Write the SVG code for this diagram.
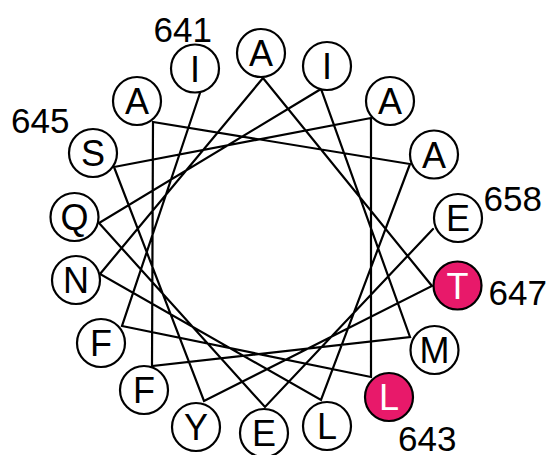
<svg xmlns="http://www.w3.org/2000/svg" width="551" height="455" viewBox="0 0 551 455">
<style>
.ln{stroke:#000;stroke-width:2.2;fill:none;stroke-linecap:round}
.c{fill:#fff;stroke:#000;stroke-width:2.2}
.r{fill:#E8196A;stroke:#000;stroke-width:2.2}
.t{font-family:"Liberation Sans",Arial,sans-serif;font-size:36px;text-anchor:middle;fill:#000}
.w{fill:#fff}
.lb{font-family:"Liberation Sans",Arial,sans-serif;font-size:35px;fill:#000}
</style>
<rect width="551" height="455" fill="#fff"/>
<g id="connectors">
<polyline class="ln" points="200,93 122,326 371,377 371,118 114,167 204,401 432,286 263,78 100,274 321,400 410,164 153,122 152,366 410,337 321,89 99,223 265,407 433,229"/>
</g>
<g id="r641"><circle class="c" cx="195" cy="68.5" r="24"/><text class="t" x="195" y="81.5">I</text></g>
<g id="r642"><circle class="c" cx="101" cy="343" r="24"/><text class="t" x="101" y="356">F</text></g>
<g id="r643"><circle class="r" cx="389" cy="397" r="24"/><text class="t w" x="389" y="410">L</text></g>
<g id="r644"><circle class="c" cx="390" cy="101" r="24"/><text class="t" x="390" y="114">A</text></g>
<g id="r645"><circle class="c" cx="93" cy="153" r="24"/><text class="t" x="93" y="166">S</text></g>
<g id="r646"><circle class="c" cx="196" cy="427" r="24"/><text class="t" x="196" y="440">Y</text></g>
<g id="r647"><circle class="r" cx="457.5" cy="285.5" r="24"/><text class="t w" x="457.5" y="298.5">T</text></g>
<g id="r648"><circle class="c" cx="261" cy="53" r="24"/><text class="t" x="261" y="66">A</text></g>
<g id="r649"><circle class="c" cx="76" cy="280" r="24"/><text class="t" x="76" y="293">N</text></g>
<g id="r650"><circle class="c" cx="327" cy="426" r="24"/><text class="t" x="327" y="439">L</text></g>
<g id="r651"><circle class="c" cx="434" cy="154.5" r="24"/><text class="t" x="434" y="167.5">A</text></g>
<g id="r652"><circle class="c" cx="137" cy="101" r="24"/><text class="t" x="137" y="114">A</text></g>
<g id="r653"><circle class="c" cx="144" cy="390" r="24"/><text class="t" x="144" y="403">F</text></g>
<g id="r654"><circle class="c" cx="434.5" cy="350" r="24"/><text class="t" x="434.5" y="363">M</text></g>
<g id="r655"><circle class="c" cx="327" cy="66" r="24"/><text class="t" x="327" y="79">I</text></g>
<g id="r656"><circle class="c" cx="74.5" cy="217" r="24"/><text class="t" x="74.5" y="230">Q</text></g>
<g id="r657"><circle class="c" cx="264" cy="433" r="24"/><text class="t" x="264" y="446">E</text></g>
<g id="r658"><circle class="c" cx="458" cy="218" r="24"/><text class="t" x="458" y="231">E</text></g>
<g id="labels">
<text class="lb" x="153.5" y="41.5">641</text>
<text class="lb" x="11" y="133">645</text>
<text class="lb" x="483.5" y="211">658</text>
<text class="lb" x="488.5" y="305">647</text>
<text class="lb" x="398" y="451">643</text>
</g>
</svg>
